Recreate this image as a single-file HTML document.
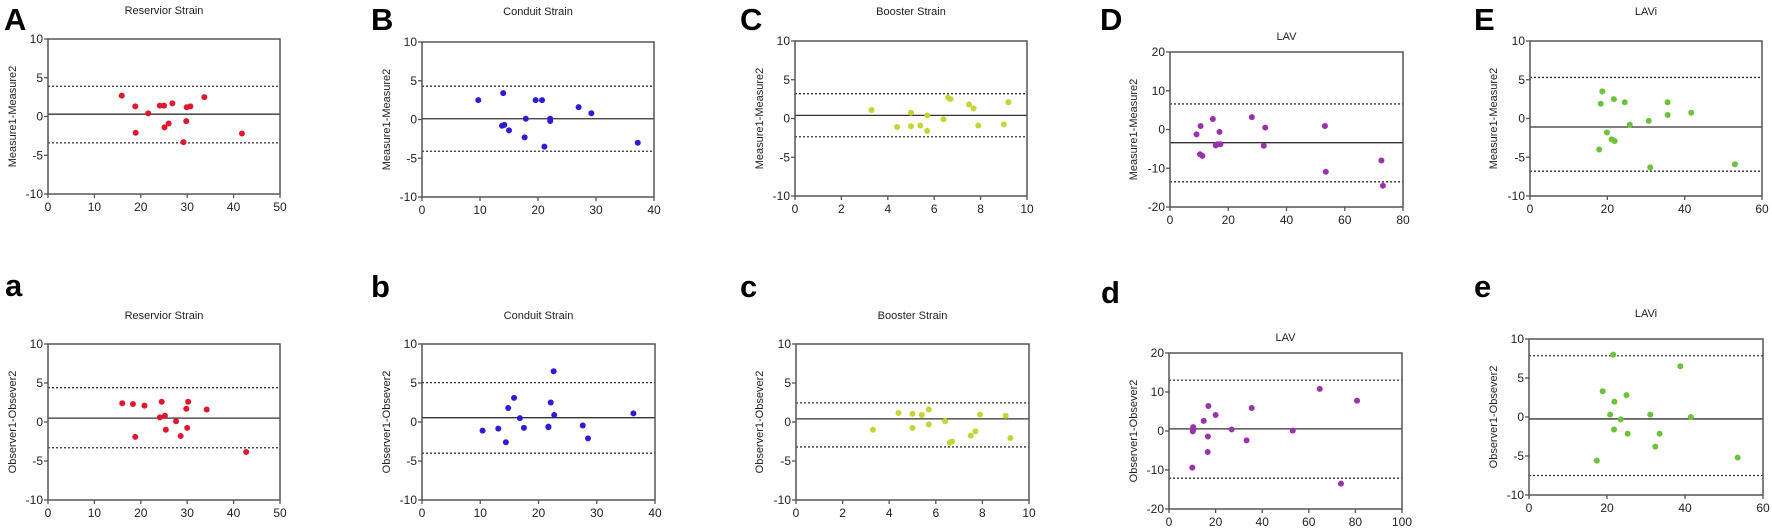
<!DOCTYPE html>
<html><head><meta charset="utf-8">
<style>
body{margin:0;background:#fff;}
svg{display:block;font-family:"Liberation Sans",Arial,sans-serif;}
</style></head>
<body>
<svg id="fig" width="1772" height="529" viewBox="0 0 1772 529"></svg>
<script>
// ---- data: x = mean, y = difference ----
const A_x=[15.9,18.8,18.9,21.6,24.1,25.0,26.8,25.1,26.0,29.8,29.2,29.9,30.7,33.7,41.8];
const A_y=[2.7,1.3,-2.1,0.4,1.4,1.4,1.7,-1.4,-0.9,-0.6,-3.3,1.2,1.3,2.5,-2.2];
const A_lines=[0.3,3.9,-3.4];
const B_x=[9.7,14.0,13.8,14.2,15.0,17.9,17.7,19.6,20.7,22.1,22.1,21.1,27.0,29.2,37.2];
const B_y=[2.5,3.4,-0.8,-0.7,-1.4,0.1,-2.3,2.5,2.5,0.1,-0.2,-3.5,1.6,0.8,-3.0];
const B_lines=[0.1,4.3,-4.1];
const C_x=[3.3,4.4,5.0,5.0,5.4,5.7,5.7,6.4,6.6,6.7,7.5,7.7,7.9,9.0,9.2];
const C_y=[1.1,-1.1,-1.0,0.75,-0.9,0.4,-1.6,-0.1,2.7,2.5,1.8,1.3,-0.9,-0.75,2.1];
const C_lines=[0.4,3.2,-2.35];
const D_x=[9.1,10.5,10.3,11.1,14.7,15.7,17.0,16.3,17.3,28.1,32.7,32.2,53.2,53.5,72.6,73.1];
const D_y=[-1.25,0.9,-6.4,-6.8,2.7,-4.1,-0.6,-3.8,-3.8,3.2,0.5,-4.2,0.9,-10.9,-8.0,-14.5];
const D_lines=[-3.4,6.6,-13.5];
const E_x=[18.7,18.3,21.7,24.5,19.9,21.1,21.9,17.9,25.8,30.7,31.1,35.6,35.6,41.7,53.0];
const E_y=[3.5,1.9,2.5,2.1,-1.8,-2.7,-2.9,-4.0,-0.8,-0.3,-6.3,2.1,0.45,0.75,-5.9];
const E_lines=[-1.1,5.3,-6.8];
const a_x=[16.0,18.3,20.8,18.8,24.5,24.1,25.2,25.4,27.6,28.6,29.8,30.2,30.0,34.2,42.7];
const a_y=[2.4,2.3,2.1,-1.9,2.6,0.6,0.8,-1.0,0.1,-1.8,1.7,2.6,-0.75,1.6,-3.85];
const a_lines=[0.5,4.4,-3.3];
const b_x=[10.4,13.1,14.4,14.8,15.8,16.8,17.5,21.7,21.7,22.1,22.6,22.7,27.6,28.5,36.3];
const b_y=[-1.1,-0.85,-2.6,1.8,3.1,0.5,-0.75,-0.6,-0.65,2.5,6.5,0.9,-0.45,-2.1,1.1];
const b_lines=[0.55,5.05,-4.0];
const c_x=[3.3,4.4,5.0,5.0,5.4,5.7,5.7,6.4,6.6,6.7,7.5,7.7,7.9,9.0,9.2];
const c_y=[-1.0,1.15,1.05,-0.75,0.9,1.6,-0.3,0.1,-2.65,-2.5,-1.75,-1.2,0.95,0.8,-2.05];
const c_lines=[0.4,2.45,-3.2];
const d_x=[10.0,10.4,10.4,10.2,14.9,16.9,16.7,16.6,20.0,26.9,33.3,35.5,53.1,64.7,73.8,80.7];
const d_y=[-9.4,1.0,0.4,-0.1,2.6,6.4,-1.4,-5.4,4.1,0.4,-2.4,5.9,0.1,10.8,-13.5,7.8];
const d_lines=[0.55,13.05,-12.1];
const e_x=[21.6,38.8,18.9,21.9,25.0,20.8,23.5,21.8,25.3,31.1,33.5,32.4,41.5,17.4,53.5];
const e_y=[8.0,6.5,3.3,1.95,2.8,0.3,-0.3,-1.6,-2.15,0.3,-2.15,-3.8,0.0,-5.6,-5.2];
const e_lines=[-0.25,7.85,-7.5];
const xTicksStrain=[0,10,20,30,40,50];
const xTicksCond=[0,10,20,30,40];
const xTicksBoost=[0,2,4,6,8,10];
const xTicksLAV=[0,20,40,60,80];
const xTicksLAVd=[0,20,40,60,80,100];
const xTicksLAVi=[0,20,40,60];
const yTicks10=[-10,-5,0,5,10];
const yTicks20=[-20,-10,0,10,20];

// ---- layout ----
const panels=[
 {id:'A',L:'A',t:'Reservior Strain',yl:'Measure1-Measure2',x:A_x,y:A_y,ln:A_lines,xt:xTicksStrain,yt:yTicks10,c:'#e0182e',box:[48,39,280,194],lp:[4,30],tp:10,yx:12},
 {id:'B',L:'B',t:'Conduit Strain',yl:'Measure1-Measure2',x:B_x,y:B_y,ln:B_lines,xt:xTicksCond,yt:yTicks10,c:'#2c1cd4',box:[422,42,654,197],lp:[371,30],tp:11,yx:386},
 {id:'C',L:'C',t:'Booster Strain',yl:'Measure1-Measure2',x:C_x,y:C_y,ln:C_lines,xt:xTicksBoost,yt:yTicks10,c:'#c6d438',box:[795,41,1027,196],lp:[740,30],tp:11,yx:759},
 {id:'D',L:'D',t:'LAV',yl:'Measure1-Measure2',x:D_x,y:D_y,ln:D_lines,xt:xTicksLAV,yt:yTicks20,c:'#9a32ae',box:[1170,52,1403,207],lp:[1100,30],tp:36,yx:1133},
 {id:'E',L:'E',t:'LAVi',yl:'Measure1-Measure2',x:E_x,y:E_y,ln:E_lines,xt:xTicksLAVi,yt:yTicks10,c:'#6cc23a',box:[1530,41,1762,196],lp:[1474,30],tp:11,yx:1493},
 {id:'a',L:'a',t:'Reservior Strain',yl:'Observer1-Obsever2',x:a_x,y:a_y,ln:a_lines,xt:xTicksStrain,yt:yTicks10,c:'#e0182e',box:[48,344,280,500],lp:[5,296],tp:315,yx:12},
 {id:'b',L:'b',t:'Conduit Strain',yl:'Observer1-Obsever2',x:b_x,y:b_y,ln:b_lines,xt:xTicksCond,yt:yTicks10,c:'#2c1cd4',box:[422,344,655,500],lp:[371,297],tp:315,yx:386},
 {id:'c',L:'c',t:'Booster Strain',yl:'Observer1-Obsever2',x:c_x,y:c_y,ln:c_lines,xt:xTicksBoost,yt:yTicks10,c:'#c6d438',box:[796,344,1029,500],lp:[740,297],tp:315,yx:759},
 {id:'d',L:'d',t:'LAV',yl:'Observer1-Obsever2',x:d_x,y:d_y,ln:d_lines,xt:xTicksLAVd,yt:yTicks20,c:'#9a32ae',box:[1169,353,1402,509],lp:[1101,303],tp:337,yx:1133},
 {id:'e',L:'e',t:'LAVi',yl:'Observer1-Obsever2',x:e_x,y:e_y,ln:e_lines,xt:xTicksLAVi,yt:yTicks10,c:'#6cc23a',box:[1529,339,1763,495],lp:[1474,297],tp:313,yx:1493}
];
const NS='http://www.w3.org/2000/svg';
const svg=document.getElementById('fig');
function mk(tag,attrs,parent){const e=document.createElementNS(NS,tag);for(const k in attrs)e.setAttribute(k,attrs[k]);(parent||svg).appendChild(e);return e;}

panels.forEach(p=>{
  const g=mk('g',{});
  
  
  const [x0,y0,x1,y1]=p.box;
  const xmin=p.xt[0],xmax=p.xt[p.xt.length-1],ymin=p.yt[0],ymax=p.yt[p.yt.length-1];
  const sx=v=>x0+(v-xmin)/(xmax-xmin)*(x1-x0);
  const sy=v=>y1-(v-ymin)/(ymax-ymin)*(y1-y0);
  const lt=mk('text',{x:p.lp[0],y:p.lp[1],'font-size':31,'font-weight':'bold',fill:'#000'},g);
  lt.textContent=p.L;
  
  
  const tt=mk('text',{x:(x0+x1)/2,y:p.tp+4,'font-size':11,'text-anchor':'middle',fill:'#222'},g);
  tt.textContent=p.t;
  
  
  const yt=mk('text',{x:0,y:0,'font-size':11,'text-anchor':'middle',fill:'#222',transform:`translate(${p.yx+4},${(y0+y1)/2}) rotate(-90)`},g);
  yt.textContent=p.yl;
  
  
  // reference lines
  p.ln.forEach((v,i)=>{
    const l=mk('line',{x1:x0,x2:x1,y1:sy(v),y2:sy(v),stroke:'#333','stroke-width':i==0?1.3:1.3,'stroke-dasharray':i==0?'none':'2,2'},g);
    
    
  });
  // frame
  const fr=mk('rect',{x:x0,y:y0,width:x1-x0,height:y1-y0,fill:'none',stroke:'#555','stroke-width':1.5},g);
  
  
  p.xt.forEach(v=>{
    const tk=mk('line',{x1:sx(v),x2:sx(v),y1:y1,y2:y1+4,stroke:'#555','stroke-width':1.3},g);
    
    
    const tl=mk('text',{x:sx(v),y:y1+17,'font-size':12,'text-anchor':'middle',fill:'#222'},g);
    tl.textContent=v;
    
    
  });
  p.yt.forEach(v=>{
    const tk=mk('line',{x1:x0-4,x2:x0,y1:sy(v),y2:sy(v),stroke:'#555','stroke-width':1.3},g);
    
    
    const tl=mk('text',{x:x0-5,y:sy(v)+4,'font-size':12,'text-anchor':'end',fill:'#222'},g);
    tl.textContent=v;
    
    
  });
  p.x.forEach((v,i)=>{
    const c=mk('circle',{cx:sx(v),cy:sy(p.y[i]),r:3,fill:p.c},g);
    
    
  });
});
</script>
</body></html>
